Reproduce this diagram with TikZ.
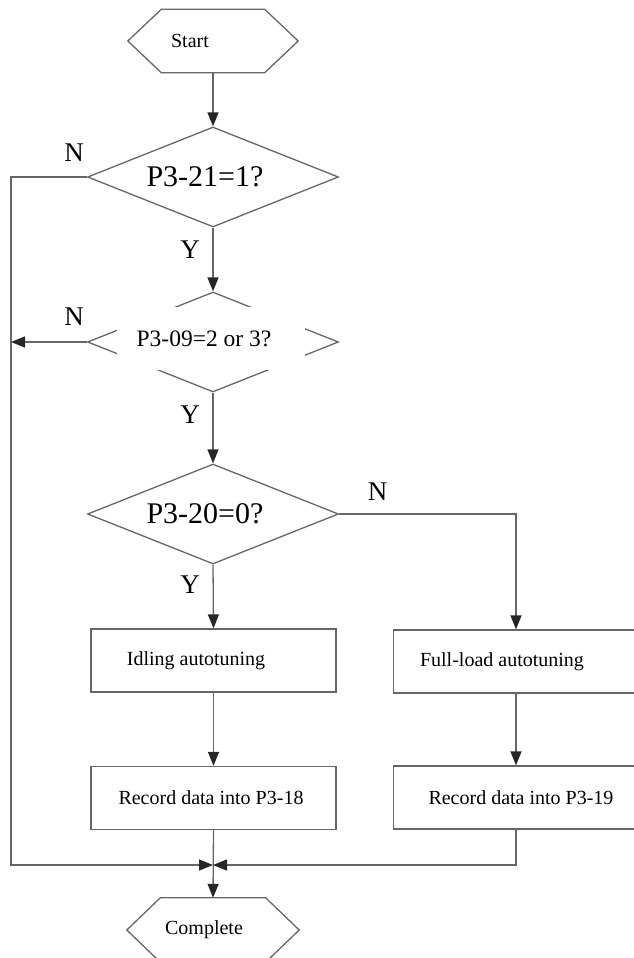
\documentclass[tikz,border=0pt]{standalone}
\usepackage{fontspec}
\setmainfont{Liberation Serif}
\usetikzlibrary{shapes.geometric,arrows.meta}
\begin{document}
\begin{tikzpicture}[x=1pt,y=-1pt,
  line/.style={draw=black!60,line width=1.3pt},
  arr/.style={line,-{Triangle[length=14pt,width=11pt,color=black!85]}},
  dec/.style={diamond,line,minimum width=251pt,minimum height=100pt,inner sep=0pt,aspect=2.5,font=\fontsize{30}{32}\selectfont},
  proc/.style={rectangle,line,minimum width=245pt,minimum height=63pt,inner sep=0pt,font=\fontsize{20}{24}\selectfont},
  term/.style={minimum width=103pt,minimum height=63pt,inner sep=0pt,font=\fontsize{20}{24}\selectfont},
  yn/.style={font=\fontsize{27}{30}\selectfont}]
  \def\P{33.5pt}
  \useasboundingbox (0,0) rectangle (633,958);
  \node[term] (start) at (213,41) {Start\hspace*{46pt}};
  \draw[line] (start.north west)--(start.north east)--([xshift=\P]start.east)--(start.south east)--(start.south west)--([xshift=-\P]start.west)--cycle;
  \node[dec] (d1) at (213,177) {P3-21=1?\hspace*{16pt}};
  \node[dec] (d2) at (213,342) {};
  \node[fill=white,minimum width=188pt,minimum height=63pt,inner sep=0pt,font=\fontsize{23.5}{26}\selectfont] (q2) at (211,338.5) {P3-09=2 or 3?\hspace*{14pt}};
  \node[dec] (d3) at (213,514) {P3-20=0?\hspace*{16pt}};
  \node[proc] (b1) at (213.5,660.5) {Idling autotuning\hspace*{35pt}};
  \node[proc] (b2) at (516,661.5) {\raisebox{-5pt}{Full-load autotuning}\hspace*{28pt}};
  \node[proc] (b3) at (213.5,798) {\raisebox{-4pt}{Record data into P3-18}\hspace*{5pt}};
  \node[proc] (b4) at (516,797.5) {\hspace*{10pt}Record data into P3-19};
  \node[term,minimum width=105pt,minimum height=64pt] (done) at (213,930) {Complete\hspace*{18pt}};
  \draw[line] (done.north west)--(done.north east)--([xshift=\P]done.east)--(done.south east)--(done.south west)--([xshift=-\P]done.west)--cycle;
  \coordinate (l) at (11,865);
  \coordinate (m) at (213,865);
  \draw[arr] (start.south)--(d1.north);
  \draw[arr] (d1.south)--(d2.north);
  \draw[arr] (d2.south)--(d3.north);
  \draw[arr] (d3.south)--(b1.north);
  \draw[arr] (d3.east)-|(b2.north);
  \draw[arr] (b1.south)--(b3.north);
  \draw[arr] (b2.south)--(b4.north);
  \draw[arr] (b3.south)--(done.north);
  \draw[arr] (d1.west)-|(l)--(m);
  \draw[arr] (d2.west)--(d2.west-|l);
  \draw[arr] (b4.south)|-(m);
  \node[yn] (n1) at (74,153) {N};
  \node[yn] (n2) at (74,317) {N};
  \node[yn] (n3) at (377.5,492) {N};
  \node[yn] (y1) at (190,250) {Y};
  \node[yn] (y2) at (190,415) {Y};
  \node[yn] (y3) at (190,585) {Y};
\end{tikzpicture}
\end{document}
